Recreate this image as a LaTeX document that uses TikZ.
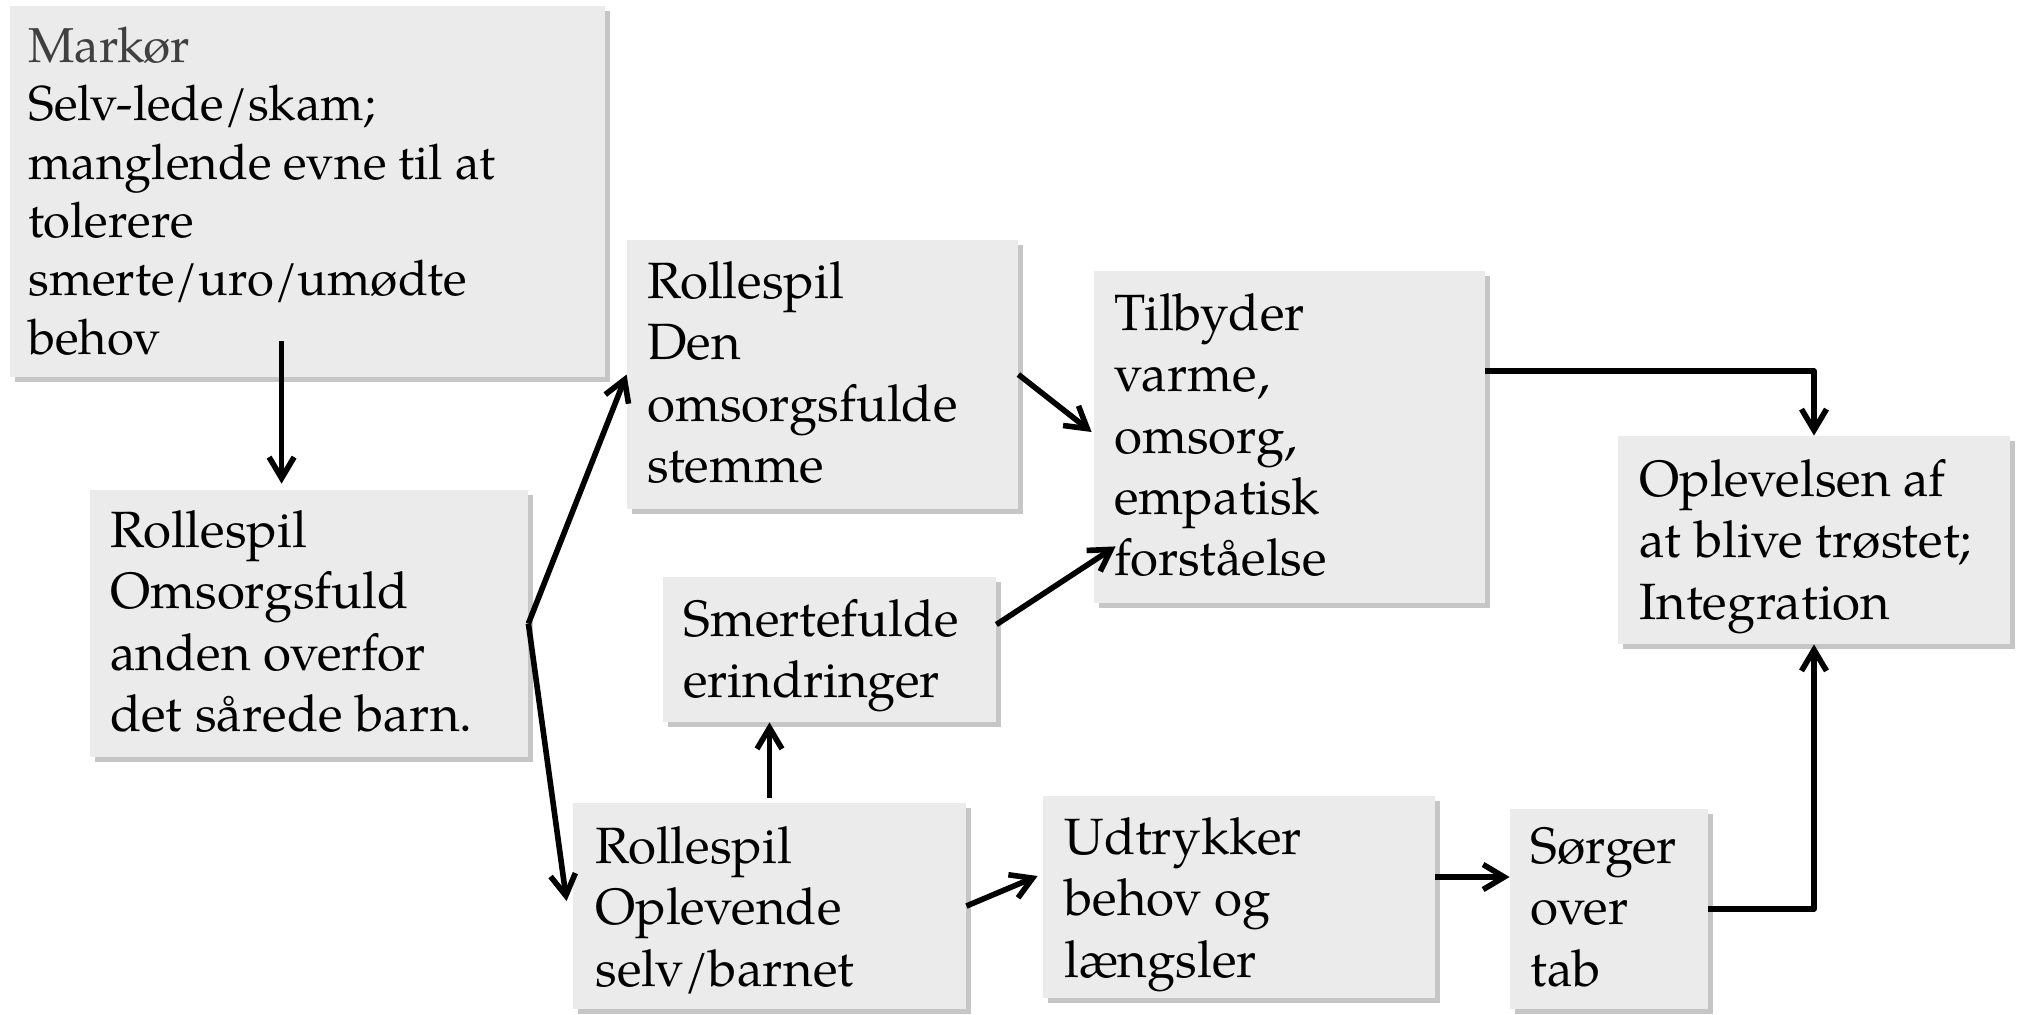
\documentclass[tikz,border=0pt]{standalone}
\usepackage{fontspec}
\setmainfont{TeX Gyre Pagella}
\usetikzlibrary{arrows.meta,calc,fit,shadows}
\definecolor{boxfill}{HTML}{EBEBEB}
\definecolor{shadowc}{HTML}{C6C6C6}
\definecolor{markc}{HTML}{404040}
\begin{document}
\begin{tikzpicture}[x=0.5pt,y=-0.5pt,
  box/.style={fill=boxfill, draw=none, inner sep=0pt,
    drop shadow={shadow xshift=2.6pt, shadow yshift=-2.6pt, fill=shadowc, opacity=1}},
  txt/.style={anchor=north west, inner sep=0pt, align=left,
    font=\fontsize{25.5}{30.7}\selectfont},
  txtA/.style={anchor=north west, inner sep=0pt, align=left,
    font=\fontsize{24.5}{29.2}\selectfont},
  arr/.style={-{Straight Barb[length=10.5pt,width=12.5pt]}, line width=2.8pt, line join=round}]
\useasboundingbox (0,0) rectangle (2020,1014);

% boxes
\node[box, fit={(10,6) (605,377)}] (A) {};
\node[box, fit={(90,490) (528,757)}] (B) {};
\node[box, fit={(627,240) (1018,509)}] (C) {};
\node[box, fit={(663,577) (996,722)}] (D) {};
\node[box, fit={(1094,271) (1485,603)}] (E) {};
\node[box, fit={(573,803) (966,1009)}] (F) {};
\node[box, fit={(1043,796) (1435,998)}] (G) {};
\node[box, fit={(1510,809) (1708,1009)}] (H) {};
\node[box, fit={(1618,436) (2010,644)}] (I) {};

% texts
\node[txtA] (tA) at (28,21) {\strut{\color{markc}Markør}\\Selv-lede/skam;\\manglende evne til at\\tolerere\\smerte/uro/umødte\\behov};
\node[txt] (tB) at (110,504) {\strut Rollespil\\Omsorgsfuld\\anden overfor\\det sårede barn.};
\node[txt] (tC) at (647,255) {\strut Rollespil\\Den\\omsorgsfulde\\stemme};
\node[txt] (tD) at (683,593) {\strut Smertefulde\\erindringer};
\node[txt] (tE) at (1114,287) {\strut Tilbyder\\varme,\\omsorg,\\empatisk\\forståelse};
\node[txt] (tF) at (595,820) {\strut Rollespil\\Oplevende\\selv/barnet};
\node[txt] (tG) at (1064,811) {\strut Udtrykker\\behov og\\længsler};
\node[txt] (tH) at (1530,820) {\strut Sørger\\over\\tab};
\node[txt] (tI) at (1639,453) {\strut Oplevelsen af\\at blive trøstet;\\Integration};

% connectors
\draw[arr] ($(A.south west)+(272,-36)$) -- ($(B.north west)+(192,-6)$);
\draw[arr] (B.east) -- (C.west);
\draw[arr] (B.east) -- ($(F.west)+(-6,-5)$);
\draw[arr] (C.east) -- ($(E.west)+(-2,-5)$);
\draw[arr] ($(D.east)+(0,-25)$) -- ($(E.south west)+(22,-57)$);
\draw[arr] ($(F.north)+(0,-5)$) -- (D.south -| F.north);
\coordinate (g1) at ($(G.east)+(0,-20)$);
\draw[arr] (F.east) -- ($(G.west)+(-5,-21)$);
\draw[arr] (g1) -- (g1 -| H.west);
\draw[arr] (H.east) -| (I.south);
\draw[arr] ($(E.east)+(0,-66)$) -| (I.north);
\end{tikzpicture}
\end{document}
